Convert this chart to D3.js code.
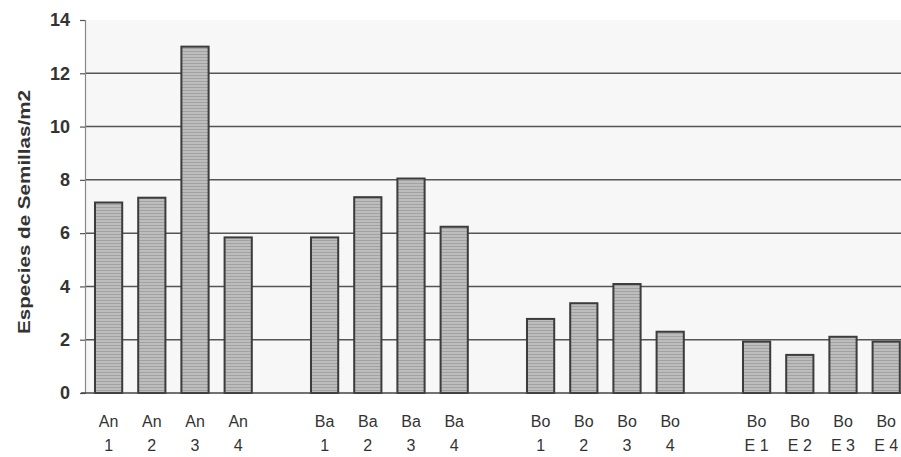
<!DOCTYPE html>
<html>
<head>
<meta charset="utf-8">
<script src="https://cdn.jsdelivr.net/npm/d3@7/dist/d3.min.js"></script>
<style>
  html, body { margin: 0; padding: 0; background: #ffffff; }
  svg { display: block; }
</style>
</head>
<body>
<svg id="chart" width="901" height="457"></svg>
<script>
// ---- data ----
const groups = ["An", "Ba", "Bo", "Bo"];
const subLabels = [
  ["1", "2", "3", "4"],
  ["1", "2", "3", "4"],
  ["1", "2", "3", "4"],
  ["E 1", "E 2", "E 3", "E 4"]
];
const values = [
  [7.15, 7.33, 13.0, 5.84],
  [5.84, 7.35, 8.05, 6.24],
  [2.78, 3.37, 4.09, 2.30],
  [1.93, 1.43, 2.11, 1.93]
];
const yTicks = [0, 2, 4, 6, 8, 10, 12, 14];
const yTitle = "Especies de Semillas/m2";

// ---- build slots (with blank separators between groups) ----
const slots = [];
const bars = [];
groups.forEach((g, gi) => {
  if (gi > 0) slots.push("gap" + gi);
  subLabels[gi].forEach((s, si) => {
    const key = g + "|" + s + "|" + gi;
    slots.push(key);
    bars.push({ key, line1: g, line2: s, value: values[gi][si] });
  });
});

const svg = d3.select("#chart");
const pLeft = 85, pRight = 901, pTop = 20, pBottom = 393;

const x = d3.scaleBand()
  .domain(slots)
  .range([pLeft + 2, pLeft + 2 + 43.2 * slots.length])
  .paddingInner(0.37)
  .paddingOuter(0.185);

const y = d3.scaleLinear().domain([0, 14]).range([pBottom, pTop]);

// plot background
svg.append("rect")
  .attr("x", pLeft).attr("y", pTop)
  .attr("width", pRight - pLeft).attr("height", pBottom - pTop)
  .attr("fill", "#f7f7f7");

// hatch pattern for bars
const defs = svg.append("defs");
const pat = defs.append("pattern")
  .attr("id", "hatch").attr("patternUnits", "userSpaceOnUse")
  .attr("width", 4).attr("height", 3);
pat.append("rect").attr("width", 4).attr("height", 3).attr("fill", "#bdbdbd");
pat.append("rect").attr("width", 4).attr("height", 1).attr("fill", "#a2a2a2");

// gridlines
svg.append("g")
  .selectAll("line")
  .data(yTicks.filter(t => t > 0 && t < 14))
  .join("line")
  .attr("x1", pLeft).attr("x2", pRight)
  .attr("y1", d => y(d)).attr("y2", d => y(d))
  .attr("stroke", "#555").attr("stroke-width", 1.5);

// bars
svg.append("g")
  .selectAll("rect")
  .data(bars)
  .join("rect")
  .attr("x", d => x(d.key))
  .attr("width", x.bandwidth())
  .attr("y", d => y(d.value))
  .attr("height", d => y(0) - y(d.value))
  .attr("fill", "url(#hatch)")
  .attr("stroke", "#3c3c3c")
  .attr("stroke-width", 2);

// y axis
const yAxis = d3.axisLeft(y).tickValues(yTicks).tickSize(5).tickPadding(10);
const gy = svg.append("g").attr("transform", `translate(${pLeft},0)`).call(yAxis);
gy.select(".domain").attr("stroke", "#888").attr("stroke-width", 1.2);
gy.selectAll(".tick line").attr("stroke", "#555").attr("stroke-width", 1.2);
gy.selectAll(".tick text")
  .attr("font-family", "Liberation Sans, Arial, sans-serif")
  .attr("font-size", 18)
  .attr("font-weight", "bold")
  .attr("fill", "#333");

// x axis baseline
svg.append("line")
  .attr("x1", pLeft - 4).attr("x2", pRight)
  .attr("y1", y(0)).attr("y2", y(0))
  .attr("stroke", "#444").attr("stroke-width", 1.5);

// x labels (two lines)
const xl = svg.append("g")
  .selectAll("text")
  .data(bars)
  .join("text")
  .attr("text-anchor", "middle")
  .attr("font-family", "Liberation Sans, Arial, sans-serif")
  .attr("font-size", 16)
  .attr("fill", "#333");
xl.append("tspan")
  .attr("x", d => x(d.key) + x.bandwidth() / 2)
  .attr("y", 427)
  .text(d => d.line1);
xl.append("tspan")
  .attr("x", d => x(d.key) + x.bandwidth() / 2)
  .attr("y", 451)
  .text(d => d.line2);

// y title
svg.append("text")
  .attr("transform", `translate(30,212) rotate(-90)`)
  .attr("text-anchor", "middle")
  .attr("font-family", "Liberation Sans, Arial, sans-serif")
  .attr("font-size", 17)
  .attr("font-weight", "bold")
  .attr("fill", "#333")
  .attr("textLength", 244)
  .attr("lengthAdjust", "spacingAndGlyphs")
  .text(yTitle);
</script>
</body>
</html>
